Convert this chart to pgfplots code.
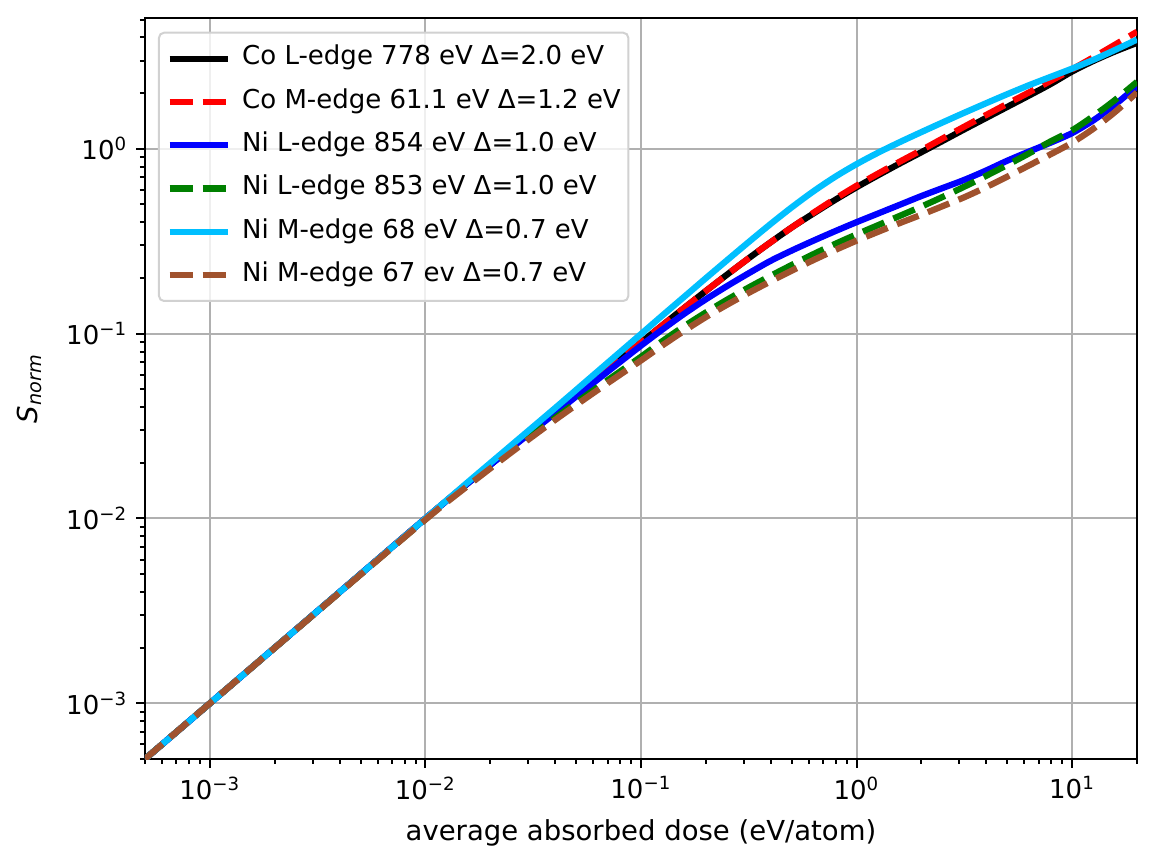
\documentclass[border=0pt]{standalone}
\usepackage{fontspec}
\setmainfont{DejaVu Sans}
\usepackage{pgfplots}
\pgfplotsset{compat=1.18}
\definecolor{mplgrid}{HTML}{B0B0B0}
\definecolor{cdeep}{HTML}{00BFFF}
\definecolor{csienna}{HTML}{A0522D}
\definecolor{cgreen}{HTML}{008000}
\begin{document}
\begin{tikzpicture}
\begin{axis}[
  name=ax,
  scale only axis, width=396.8pt, height=296.4pt,
  xmode=log, ymode=log,
  xmin=5e-4, xmax=20, ymin=5e-4, ymax=5.1,
  axis line style={line width=0.8pt},
  tick style={line width=0.8pt, black},
  tick align=outside, tick pos=left,
  major tick length=3.5pt, minor tick length=2pt,
  xtick={1e-3,1e-2,1e-1,1,10},
  xticklabels={10\textsuperscript{−3},10\textsuperscript{−2},10\textsuperscript{−1},10\textsuperscript{0},10\textsuperscript{1}},
  minor xtick={5e-4,6e-4,7e-4,8e-4,9e-4,2e-3,3e-3,4e-3,5e-3,6e-3,7e-3,8e-3,9e-3,2e-2,3e-2,4e-2,5e-2,6e-2,7e-2,8e-2,9e-2,0.2,0.3,0.4,0.5,0.6,0.7,0.8,0.9,2,3,4,5,6,7,8,9,20},
  ytick={1e-3,1e-2,1e-1,1},
  yticklabels={10\textsuperscript{−3},10\textsuperscript{−2},10\textsuperscript{−1},10\textsuperscript{0}},
  minor ytick={5e-4,6e-4,7e-4,8e-4,9e-4,2e-3,3e-3,4e-3,5e-3,6e-3,7e-3,8e-3,9e-3,2e-2,3e-2,4e-2,5e-2,6e-2,7e-2,8e-2,9e-2,0.2,0.3,0.4,0.5,0.6,0.7,0.8,0.9,2,3,4,5},
  grid=major, major grid style={mplgrid, line width=0.8pt},
  ticklabel style={font=\fontsize{10.4}{12}\selectfont},
  xlabel={average absorbed dose (eV/atom)},
  ylabel={\itshape S\textsubscript{norm}},
  label style={font=\fontsize{11}{13}\selectfont},
  xlabel style={yshift=-1pt},
  ylabel style={yshift=3pt},
  legend cell align=left,
  legend image code/.code={\draw[#1] (0pt,0pt) -- (23.2pt,0pt);},
  legend style={at={(0,1)}, anchor=north west, xshift=5.2pt, yshift=-5.5pt,
    draw=black!18, line width=0.8pt, rounded corners=2pt,
    fill=white, fill opacity=0.8, text opacity=1,
    font=\fontsize{10.4}{12}\selectfont,
    inner xsep=3pt, inner ysep=5.3pt, row sep=7.1pt,
    nodes={inner xsep=0pt, inner ysep=0pt, text height=7.6pt, text depth=2.6pt},
    /tikz/every odd column/.append style={column sep=4.6pt}},
  every axis plot/.append style={line width=2.5pt, line cap=butt, smooth, tension=0.5},
]
\addplot[black] coordinates {
(0.0005,0.0005) (0.001,0.001) (0.003162,0.003162) (0.01,0.01) (0.01585,0.01563) (0.02512,0.02427) (0.03981,0.03741) (0.0631,0.05781) (0.1,0.08954) (0.1259,0.1112) (0.1585,0.1377) (0.1995,0.1698) (0.2512,0.2089) (0.3162,0.2559) (0.3981,0.3112) (0.5012,0.3758) (0.631,0.4467) (0.7943,0.5284) (1,0.6194) (1.259,0.7194) (1.585,0.8318) (1.995,0.9572) (2.512,1.104) (3.162,1.274) (3.981,1.466) (5.012,1.687) (6.31,1.941) (7.943,2.239) (10,2.618) (12.59,2.992) (15.85,3.365) (20,3.741)};
\addlegendentry{Co L-edge 778 eV Δ=2.0 eV}
\addplot[red, dash pattern=on 9.25pt off 4pt] coordinates {
(0.0005,0.0005) (0.001,0.001) (0.003162,0.003162) (0.01,0.01) (0.01585,0.01563) (0.02512,0.02427) (0.03981,0.03741) (0.0631,0.05781) (0.1,0.08954) (0.1259,0.1112) (0.1585,0.1377) (0.1995,0.1698) (0.2512,0.2089) (0.3162,0.2559) (0.3981,0.3112) (0.5012,0.3758) (0.631,0.4508) (0.7943,0.5358) (1,0.6310) (1.259,0.7345) (1.585,0.8511) (1.995,0.9817) (2.512,1.138) (3.162,1.318) (3.981,1.521) (5.012,1.754) (6.31,2.018) (7.943,2.328) (10,2.692) (12.59,3.133) (15.85,3.664) (20,4.295)};
\addlegendentry{Co M-edge 61.1 eV Δ=1.2 eV}
\addplot[blue] coordinates {
(0.0005,0.0005) (0.001,0.001) (0.003162,0.003162) (0.01,0.01) (0.01585,0.01563) (0.02512,0.02415) (0.03981,0.03698) (0.0631,0.05662) (0.1,0.08610) (0.1259,0.1054) (0.1585,0.1279) (0.1995,0.1531) (0.2512,0.1811) (0.3162,0.2123) (0.3981,0.2472) (0.5012,0.2818) (0.631,0.3184) (0.7943,0.3581) (1,0.4009) (1.259,0.4467) (1.585,0.4977) (1.995,0.5546) (2.512,0.6138) (3.162,0.6792) (3.981,0.7621) (5.012,0.8630) (6.31,0.9661) (7.943,1.079) (10,1.216) (12.59,1.429) (15.85,1.738) (20,2.178)};
\addlegendentry{Ni L-edge 854 eV Δ=1.0 eV}
\addplot[cgreen, dash pattern=on 9.25pt off 4pt] coordinates {
(0.0005,0.0005) (0.001,0.001) (0.003162,0.003155) (0.01,0.009908) (0.01585,0.01531) (0.02512,0.02328) (0.03981,0.03491) (0.0631,0.05140) (0.1,0.07499) (0.1259,0.09120) (0.1585,0.1096) (0.1995,0.1300) (0.2512,0.1528) (0.3162,0.1778) (0.3981,0.2051) (0.5012,0.2355) (0.631,0.2692) (0.7943,0.3055) (1,0.3443) (1.259,0.3864) (1.585,0.4335) (1.995,0.4864) (2.512,0.5495) (3.162,0.6237) (3.981,0.7129) (5.012,0.8185) (6.31,0.9441) (7.943,1.096) (10,1.259) (12.59,1.507) (15.85,1.841) (20,2.301)};
\addlegendentry{Ni L-edge 853 eV Δ=1.0 eV}
\addplot[cdeep] coordinates {
(0.0005,0.0005) (0.001,0.001) (0.003162,0.003162) (0.01,0.01) (0.01585,0.01585) (0.02512,0.02500) (0.03981,0.03945) (0.0631,0.06266) (0.1,0.09954) (0.1259,0.1256) (0.1585,0.1581) (0.1995,0.1991) (0.2512,0.2500) (0.3162,0.3133) (0.3981,0.3908) (0.5012,0.4831) (0.631,0.5888) (0.7943,0.7047) (1,0.8260) (1.259,0.9528) (1.585,1.086) (1.995,1.230) (2.512,1.390) (3.162,1.567) (3.981,1.762) (5.012,1.977) (6.31,2.208) (7.943,2.449) (10,2.716) (12.59,3.034) (15.85,3.428) (20,3.899)};
\addlegendentry{Ni M-edge 68 eV Δ=0.7 eV}
\addplot[csienna, dash pattern=on 9.25pt off 4pt] coordinates {
(0.0005,0.0005) (0.001,0.001) (0.003162,0.00315) (0.01,0.009863) (0.01585,0.01514) (0.02512,0.02286) (0.03981,0.03404) (0.0631,0.04966) (0.1,0.07161) (0.1259,0.08650) (0.1585,0.1035) (0.1995,0.1227) (0.2512,0.1435) (0.3162,0.1663) (0.3981,0.1914) (0.5012,0.2193) (0.631,0.2500) (0.7943,0.2831) (1,0.3184) (1.259,0.3556) (1.585,0.3963) (1.995,0.4395) (2.512,0.4898) (3.162,0.5470) (3.981,0.6194) (5.012,0.7079) (6.31,0.8128) (7.943,0.9333) (10,1.079) (12.59,1.288) (15.85,1.585) (20,2.018)};
\addlegendentry{Ni M-edge 67 ev Δ=0.7 eV}
\end{axis}
\pgfresetboundingbox
\path (ax.south west) ++(-58pt,-43.2pt) rectangle ([shift={(7.6pt,7.2pt)}]ax.north east);
\end{tikzpicture}
\end{document}
